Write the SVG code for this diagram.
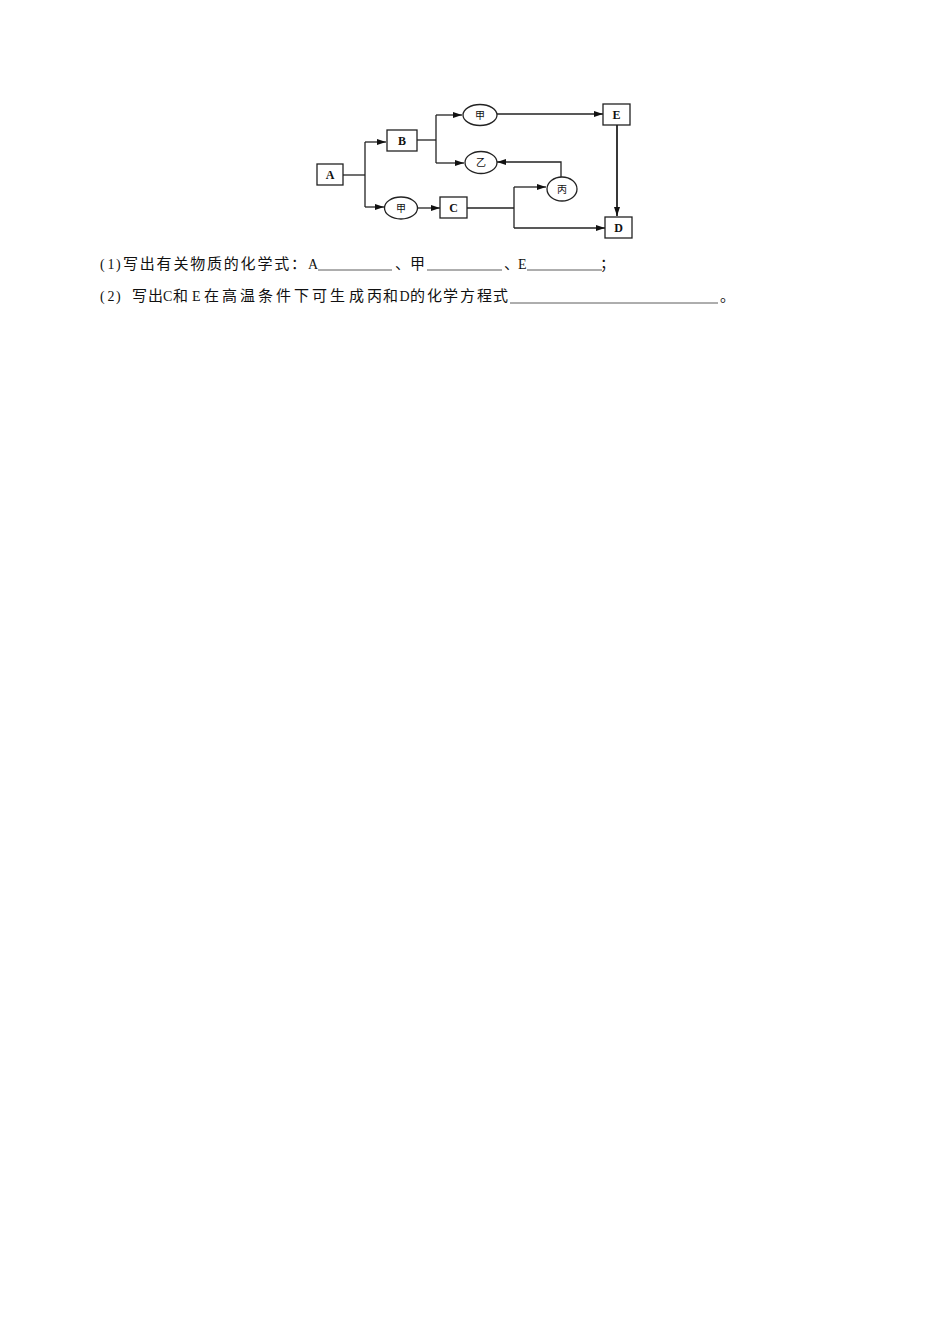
<svg xmlns="http://www.w3.org/2000/svg" width="950" height="1344" viewBox="0 0 950 1344">
<style>
.box{fill:#fff;stroke:#222;stroke-width:1.3}
.ell{fill:#fff;stroke:#222;stroke-width:1.3}
.bl{font-family:"Liberation Serif",serif;font-weight:bold;font-size:12px;fill:#111;text-anchor:middle}
.el{font-family:"Noto Sans CJK SC",sans-serif;font-size:10px;fill:#111;text-anchor:middle}
.ln{fill:none;stroke:#222;stroke-width:1.3}
.ar{fill:none;stroke:#222;stroke-width:1.3;marker-end:url(#ah)}
.q{font-family:"Noto Sans CJK SC",sans-serif;font-size:15px;fill:#111}
.a{font-family:"Liberation Serif",serif;font-size:14px}
.u{stroke:#333;stroke-width:0.8}
</style>
<defs>
<marker id="ah" markerUnits="userSpaceOnUse" markerWidth="10" markerHeight="6" refX="9" refY="3" orient="auto">
<path d="M0,0 L9,3 L0,6 z" fill="#111"/>
</marker>
</defs>
<rect width="950" height="1344" fill="#fff"/>
<g id="connectors">
<path class="ln" d="M343,175 H365"/>
<path class="ln" d="M365,142 V207"/>
<path class="ar" d="M365,142 H386"/>
<path class="ar" d="M365,207 H384"/>
<path class="ln" d="M417,140 H436"/>
<path class="ln" d="M436,115 V163"/>
<path class="ar" d="M436,115 H462"/>
<path class="ar" d="M436,163 H464"/>
<path class="ar" d="M497,114 H603"/>
<path class="ar" d="M617,125 V216" style="stroke-width:1.8"/>
<path class="ar" d="M417,208 H440"/>
<path class="ln" d="M467,208 H514"/>
<path class="ln" d="M514,187 V228"/>
<path class="ar" d="M514,187 H546"/>
<path class="ar" d="M514,228 H605"/>
<path class="ar" d="M561,177 V162 H497"/>
</g>
<g id="node-A"><rect class="box" x="317" y="164" width="26" height="21"/><text class="bl" x="330" y="179">A</text></g>
<g id="node-B"><rect class="box" x="387" y="130" width="30" height="21"/><text class="bl" x="402" y="145">B</text></g>
<g id="node-C"><rect class="box" x="440" y="197" width="27" height="21"/><text class="bl" x="453.5" y="212">C</text></g>
<g id="node-E"><rect class="box" x="603" y="104" width="27" height="21"/><text class="bl" x="616.5" y="119">E</text></g>
<g id="node-D"><rect class="box" x="605" y="217" width="27" height="21"/><text class="bl" x="618.5" y="232">D</text></g>
<g id="node-jia1"><ellipse class="ell" cx="480" cy="115" rx="17" ry="10.5"/><text class="el" x="480" y="118.8">甲</text></g>
<g id="node-yi"><ellipse class="ell" cx="481" cy="162.5" rx="16" ry="11"/><text class="el" x="481" y="166.3">乙</text></g>
<g id="node-bing"><ellipse class="ell" cx="562" cy="189" rx="15" ry="12"/><text class="el" x="562" y="192.8">丙</text></g>
<g id="node-jia2"><ellipse class="ell" cx="401" cy="208" rx="16.5" ry="11"/><text class="el" x="401" y="211.8">甲</text></g>
<g id="question">
<text class="q" y="269"><tspan class="a" x="100 107.5 116">(1)</tspan><tspan x="123 139.8 156.6 173.4 190.2 207 223.8 240.6 257.4 274.2 291">写出有关物质的化学式：</tspan><tspan class="a" x="308">A</tspan><tspan x="395">、</tspan><tspan x="410">甲</tspan><tspan x="504">、</tspan><tspan class="a" x="518">E</tspan><tspan x="600">；</tspan></text>
<line class="u" x1="318" y1="270" x2="392" y2="270"/>
<line class="u" x1="427" y1="270" x2="502" y2="270"/>
<line class="u" x1="527" y1="270" x2="602" y2="270"/>
<text class="q" y="301"><tspan class="a" x="100 107.5 116">(2)</tspan><tspan x="132 148">写出</tspan><tspan class="a" x="163">C</tspan><tspan x="173">和</tspan><tspan class="a" x="192">E</tspan><tspan x="204 222 240 258 276 294 312 330 349 367 383">在高温条件下可生成丙和</tspan><tspan class="a" x="399.5">D</tspan><tspan x="410 427 443 460 477 493">的化学方程式</tspan><tspan x="720">。</tspan></text>
<line class="u" x1="510" y1="303" x2="718" y2="303"/>
</g>
</svg>
